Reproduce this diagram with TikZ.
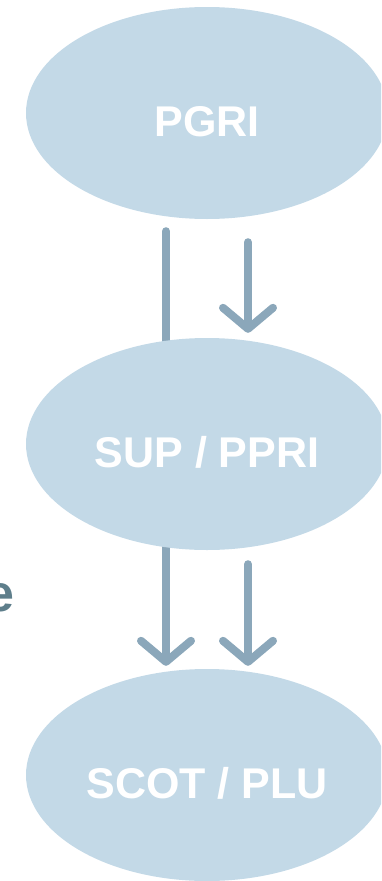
\documentclass[tikz,border=0pt]{standalone}
\usepackage{fontspec}
\setmainfont{Liberation Sans}
\usetikzlibrary{arrows.meta,shapes.geometric}
\definecolor{bubble}{HTML}{C3D9E7}
\definecolor{flow}{HTML}{8BA7BA}
\definecolor{slate}{HTML}{5E7E8B}
\pgfdeclarelayer{back}
\pgfsetlayers{back,main}

\begin{document}
\begin{tikzpicture}[x=1pt, y=-1pt, > = {Straight Barb[length=21pt, width=50pt, round]},
    stage/.style = {ellipse, fill=bubble, minimum width=362pt, minimum height=212pt, inner sep=0pt, text=white, font=\fontsize{43}{50}\selectfont\bfseries, text height=47pt, text depth=0pt},
    link/.style = {flow, line width=8pt, line cap=round}]

    % frame
    \useasboundingbox (0,0) rectangle (381,881);
    \clip (0,0) rectangle (381,881);

    % stages
    \node[stage] (pgri) at (207,113) {PGRI};
    \node[stage] (sup) at (207,444) {SUP / PPRI};
    \node[stage] (scot) at (207,775) {SCOT / PLU};

    % links
    \begin{pgfonlayer}{back}
    \draw[link] ([shift={(-41,12)}]pgri.south) -- ([shift={(-41,8)}]sup.north);
    \draw[link, ->] ([shift={(41,23)}]pgri.south) -- ([shift={(41,-5)}]sup.north);
    \draw[link, ->] ([shift={(-41,-10)}]sup.south) -- ([shift={(-41,-3)}]scot.north);
    \draw[link, ->] ([shift={(41,14)}]sup.south) -- ([shift={(41,-3)}]scot.north);
    \end{pgfonlayer}

    \node[anchor=base east, inner sep=0pt, text=slate, font=\fontsize{52}{60}\selectfont\bfseries] (mark) at (14.5,611) {e};
\end{tikzpicture}
\end{document}
